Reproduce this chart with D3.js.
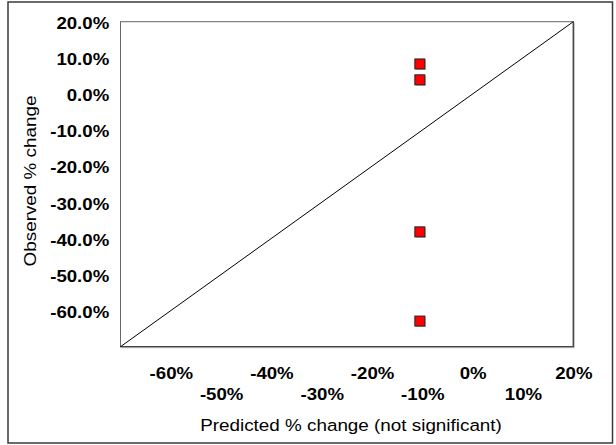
<!DOCTYPE html>
<html>
<head>
<meta charset="utf-8">
<script src="https://cdn.jsdelivr.net/npm/d3@7"></script>
<style>
  body { margin: 0; background: #fff; }
  svg { display: block; font-family: "Liberation Sans", Arial, sans-serif; }
  .tick line { display: none; }
</style>
</head>
<body>
<div id="chart"></div>
<script>
// Observed vs predicted % change (4 sites, all near -10% predicted)
const predicted = [-10.5, -10.5, -10.5, -10.5];
const observed = [8.3, 3.9, -38.2, -62.9];
const xTicks = [-60, -50, -40, -30, -20, -10, 0, 10, 20];
const yTicks = [20, 10, 0, -10, -20, -30, -40, -50, -60];
const domain = [-70, 20];

const W = 616, H = 445;
const plot = { left: 120.5, top: 21.7, right: 573.3, bottom: 346.7 };
const stretch = 1.13; // the source font runs wider than Arial

const svg = d3.select('#chart').append('svg')
    .attr('width', W)
    .attr('height', H);

// outer frame
svg.append('rect')
    .attr('x', 8).attr('y', 2)
    .attr('width', 604.5).attr('height', 441)
    .attr('fill', 'none')
    .attr('stroke', '#3a3a3a')
    .attr('stroke-width', 1.5);

const x = d3.scaleLinear().domain(domain).range([plot.left, plot.right]);
const y = d3.scaleLinear().domain(domain).range([plot.bottom, plot.top]);

// plot frame
svg.append('rect')
    .attr('x', plot.left).attr('y', plot.top)
    .attr('width', plot.right - plot.left)
    .attr('height', plot.bottom - plot.top)
    .attr('fill', '#fff')
    .attr('stroke', '#666')
    .attr('stroke-width', 1);
svg.append('path')
    .attr('d', `M${plot.right + 1},${plot.top + 1}V${plot.bottom + 1}H${plot.left + 1}`)
    .attr('fill', 'none')
    .attr('stroke', '#bbb')
    .attr('stroke-width', 1);
svg.append('path')
    .attr('d', `M${plot.right},${plot.top}V${plot.bottom}H${plot.left}`)
    .attr('fill', 'none')
    .attr('stroke', '#444')
    .attr('stroke-width', 1.2);

// y axis
svg.append('g')
    .attr('transform', `translate(${plot.left},1.5)`)
    .call(d3.axisLeft(y).tickValues(yTicks).tickSize(0).tickFormat(d => d.toFixed(1) + '%'))
    .call(g => g.select('.domain').remove())
    .call(g => g.selectAll('text')
        .attr('x', -10)
        .attr('transform', `scale(${stretch},1)`)
        .attr('fill', '#000')
        .style('font-size', '16.5px')
        .style('font-weight', 'bold'));

// x axis, labels staggered on two rows
svg.append('g')
    .attr('transform', `translate(0,${plot.bottom})`)
    .call(d3.axisBottom(x).tickValues(xTicks).tickSize(0).tickFormat(d => d + '%'))
    .call(g => g.select('.domain').remove())
    .call(g => g.selectAll('text')
        .attr('y', (d, i) => i % 2 === 0 ? 20.5 : 41.5)
        .attr('transform', `scale(${stretch},1)`)
        .attr('fill', '#000')
        .style('font-size', '16.5px')
        .style('font-weight', 'bold'));

// 1:1 line
svg.append('line')
    .attr('x1', x(domain[0])).attr('y1', y(domain[0]))
    .attr('x2', x(domain[1])).attr('y2', y(domain[1]))
    .attr('stroke', '#000')
    .attr('stroke-width', 1);

// points
const pts = predicted.map((p, i) => ({ p, o: observed[i] }));
svg.selectAll('.pt-shadow')
    .data(pts)
    .enter().append('rect')
    .attr('class', 'pt-shadow')
    .attr('x', d => x(d.p) - 4)
    .attr('y', d => y(d.o) - 4)
    .attr('width', 10).attr('height', 10)
    .attr('fill', '#bbb');
svg.selectAll('.pt')
    .data(pts)
    .enter().append('rect')
    .attr('class', 'pt')
    .attr('x', d => x(d.p) - 5)
    .attr('y', d => y(d.o) - 5)
    .attr('width', 10).attr('height', 10)
    .attr('fill', '#ff0000')
    .attr('stroke', '#222')
    .attr('stroke-width', 1);

// axis titles
svg.append('text')
    .attr('transform', `translate(351,430.5) scale(1.11,1)`)
    .attr('text-anchor', 'middle')
    .style('font-size', '17px')
    .text('Predicted % change (not significant)');

svg.append('text')
    .attr('transform', `translate(36,181) rotate(-90) scale(1.11,1)`)
    .attr('text-anchor', 'middle')
    .style('font-size', '17px')
    .text('Observed % change');
</script>
</body>
</html>
